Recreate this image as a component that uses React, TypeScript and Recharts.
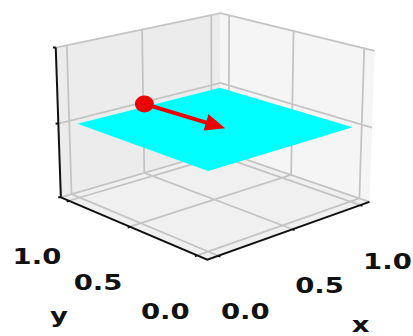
import { ComposedChart, XAxis, YAxis, Line, Area, Scatter } from 'recharts'

const W = 413
const H = 336

// axis limits (x/y padded like matplotlib, z exact)
const X_LIM = [-0.07, 1.07]
const Y_LIM = [-0.07, 1.07]
const Z_LIM = [0, 1]

const X_TICKS = [0, 0.5, 1]
const Y_TICKS = [0, 0.5, 1]
const Z_TICKS = [0, 0.5, 1]
const X_TICK_LABELS = ['0.0', '0.5', '1.0']
const Y_TICK_LABELS = ['0.0', '0.5', '1.0']
const X_LABEL = 'x'
const Y_LABEL = 'y'

// cyan plane z = 0.5 over the unit square
const PLANE_X = [0, 1]
const PLANE_Y = [0, 1]
const PLANE_Z = 0.5

// red vector
const ARROW_FROM: V3 = [0.45, 1, 0.52]
const ARROW_TO: V3 = [0.51, 0.43, 0.5]

// camera
const ELEV = 17.5
const AZIM = -132.6
const DIST = 6.5
const BOX_Z = 0.71
// where the projection lands in the picture
const SCALE = 222
const CX = 214.5
const CY = 125.6
// the original figure was stretched sideways
const STRETCH = 1.25

const GRID = '#c4c4c4'
const PANE_Y = '#ececec'
const PANE_X = '#f5f5f5'
const PANE_Z = '#f0f0f0'
const CYAN = '#00ffff'
const RED = '#ee0000'
const INK = '#111111'

type V3 = [number, number, number]
type Pt = { sx: number; sy: number | null; text?: string }

const d2r = Math.PI / 180
const E = ELEV * d2r
const A = AZIM * d2r
const RIGHT = [-Math.sin(A), Math.cos(A), 0]
const UP = [-Math.sin(E) * Math.cos(A), -Math.sin(E) * Math.sin(A), Math.cos(E)]
const FWD = [Math.cos(E) * Math.cos(A), Math.cos(E) * Math.sin(A), Math.sin(E)]

const nrm = (v: number, lim: number[], box: number) => ((v - lim[0]) / (lim[1] - lim[0]) - 0.5) * box

function proj([x, y, z]: V3): Pt {
  const p = [nrm(x, X_LIM, 1), nrm(y, Y_LIM, 1), nrm(z, Z_LIM, BOX_Z)]
  const dot = (v: number[]) => p[0] * v[0] + p[1] * v[1] + p[2] * v[2]
  const f = DIST / (DIST - dot(FWD))
  return { sx: dot(RIGHT) * f, sy: dot(UP) * f }
}

// several polylines in one series, split by null points
function polylines(paths: V3[][]): Pt[] {
  const out: Pt[] = []
  paths.forEach((path, i) => {
    if (i) out.push({ sx: 0, sy: null })
    path.forEach((p) => out.push(proj(p)))
  })
  return out
}

// convex polygon -> range area rows (lower/upper edge at every vertex x)
function band(poly: Pt[]) {
  const xs = [...new Set(poly.map((p) => p.sx))].sort((a, b) => a - b)
  return xs.map((x) => {
    const ys: number[] = []
    for (let i = 0; i < poly.length; i++) {
      const p = poly[i]
      const q = poly[(i + 1) % poly.length]
      const lo = Math.min(p.sx, q.sx)
      const hi = Math.max(p.sx, q.sx)
      if (x < lo - 1e-12 || x > hi + 1e-12) continue
      if (hi - lo < 1e-12) ys.push(p.sy as number, q.sy as number)
      else ys.push((p.sy as number) + ((q.sy as number) - (p.sy as number)) * (x - p.sx) / (q.sx - p.sx))
    }
    return { sx: x, band: [Math.min(...ys), Math.max(...ys)] }
  })
}

const [x0, x1] = X_LIM
const [y0, y1] = Y_LIM
const [z0, z1] = Z_LIM

const paneY = band(([[x0, y1, z0], [x1, y1, z0], [x1, y1, z1], [x0, y1, z1]] as V3[]).map(proj))
const paneX = band(([[x1, y0, z0], [x1, y1, z0], [x1, y1, z1], [x1, y0, z1]] as V3[]).map(proj))
const paneZ = band(([[x0, y0, z0], [x1, y0, z0], [x1, y1, z0], [x0, y1, z0]] as V3[]).map(proj))

const gridData = polylines([
  ...X_TICKS.map((t) => [[t, y0, z0], [t, y1, z0], [t, y1, z1]] as V3[]),
  ...Y_TICKS.map((t) => [[x0, t, z0], [x1, t, z0], [x1, t, z1]] as V3[]),
  ...Z_TICKS.map((t) => [[x0, y1, t], [x1, y1, t], [x1, y0, t]] as V3[]),
])

const axisData = polylines([
  [[x0, y1, z0], [x0, y0, z0], [x1, y0, z0]],
  [[x0, y1, z0], [x0, y1, z1]],
  ...X_TICKS.map((t) => [[t, y0, z0], [t, y0 - 0.015, z0]] as V3[]),
  ...Y_TICKS.map((t) => [[x0, t, z0], [x0 - 0.015, t, z0]] as V3[]),
  ...Z_TICKS.map((t) => [[x0, y1, t], [x0 - 0.01, y1 + 0.01, t]] as V3[]),
])

const plane = band(
  ([
    [PLANE_X[0], PLANE_Y[0], PLANE_Z],
    [PLANE_X[1], PLANE_Y[0], PLANE_Z],
    [PLANE_X[1], PLANE_Y[1], PLANE_Z],
    [PLANE_X[0], PLANE_Y[1], PLANE_Z],
  ] as V3[]).map(proj),
)

// arrow: shaft + filled head, head sized in pixels
const tail = proj(ARROW_FROM)
const tip = proj(ARROW_TO)
const adx = tip.sx - tail.sx
const ady = (tip.sy as number) - (tail.sy as number)
const alen = Math.hypot(adx, ady)
const ux = adx / alen
const uy = ady / alen
const HEAD_L = 20 / SCALE
const HEAD_W = 8.5 / SCALE
const base = { sx: tip.sx - ux * HEAD_L, sy: (tip.sy as number) - uy * HEAD_L }
const head = band([
  tip,
  { sx: base.sx - uy * HEAD_W, sy: base.sy + ux * HEAD_W },
  { sx: base.sx + uy * HEAD_W, sy: base.sy - ux * HEAD_W },
])
const shaft = [tail, { sx: base.sx + ux * 2 / SCALE, sy: base.sy + uy * 2 / SCALE }]

// tick labels sit below/outside the front axes
const shift = (p: Pt, dx: number, dy: number, text: string): Pt => ({
  sx: p.sx + dx / SCALE,
  sy: (p.sy as number) - dy / SCALE,
  text,
})
const labels: Pt[] = [
  ...X_TICKS.map((t, i) => shift(proj([t, y0, z0]), 27, 56, X_TICK_LABELS[i])),
  ...Y_TICKS.map((t, i) => shift(proj([x0, t, z0]), -32, 56, Y_TICK_LABELS[i])),
  shift(proj([0.5, y0, z0]), 68, 95, X_LABEL),
  shift(proj([x0, 0.5, z0]), -71, 89, Y_LABEL),
]

const TickText = (props: any) => {
  const { cx, cy, payload } = props
  return (
    <text
      transform={`translate(${cx},${cy}) scale(${STRETCH},1)`}
      textAnchor="middle"
      dominantBaseline="central"
      fontFamily="DejaVu Sans"
      fontWeight="bold"
      fontSize={22}
      fill={INK}
    >
      {payload.text}
    </text>
  )
}

const Dot = (props: any) => <ellipse cx={props.cx} cy={props.cy} rx={9.5} ry={8.5} fill={RED} />

const areaProps = {
  dataKey: 'band',
  type: 'linear' as const,
  stroke: 'none',
  fillOpacity: 1,
  dot: false,
  activeDot: false,
  isAnimationActive: false,
}

export default function App() {
  return (
    <div style={{ position: 'absolute', left: 0, top: 0, background: '#fff' }}>
      <ComposedChart width={W} height={H} margin={{ top: 0, right: 0, bottom: 0, left: 0 }}>
        <XAxis
          type="number"
          dataKey="sx"
          domain={[-CX / SCALE, (W - CX) / SCALE]}
          allowDataOverflow
          hide
        />
        <YAxis
          type="number"
          dataKey="sy"
          domain={[(CY - H) / SCALE, CY / SCALE]}
          allowDataOverflow
          hide
        />
        <Area {...areaProps} data={paneY} fill={PANE_Y} zIndex={1} />
        <Area {...areaProps} data={paneX} fill={PANE_X} zIndex={2} />
        <Area {...areaProps} data={paneZ} fill={PANE_Z} zIndex={3} />
        <Line data={gridData} dataKey="sy" stroke={GRID} strokeWidth={1.8} dot={false} activeDot={false} isAnimationActive={false} zIndex={4} />
        <Line data={axisData} dataKey="sy" stroke={INK} strokeWidth={2} dot={false} activeDot={false} isAnimationActive={false} zIndex={5} />
        <Area {...areaProps} data={plane} fill={CYAN} zIndex={6} />
        <Line data={shaft} dataKey="sy" stroke={RED} strokeWidth={4} dot={false} activeDot={false} isAnimationActive={false} zIndex={7} />
        <Area {...areaProps} data={head} fill={RED} zIndex={8} />
        <Scatter data={[tail]} shape={Dot} isAnimationActive={false} zIndex={9} />
        <Scatter data={labels} shape={TickText} isAnimationActive={false} zIndex={10} />
      </ComposedChart>
    </div>
  )
}
